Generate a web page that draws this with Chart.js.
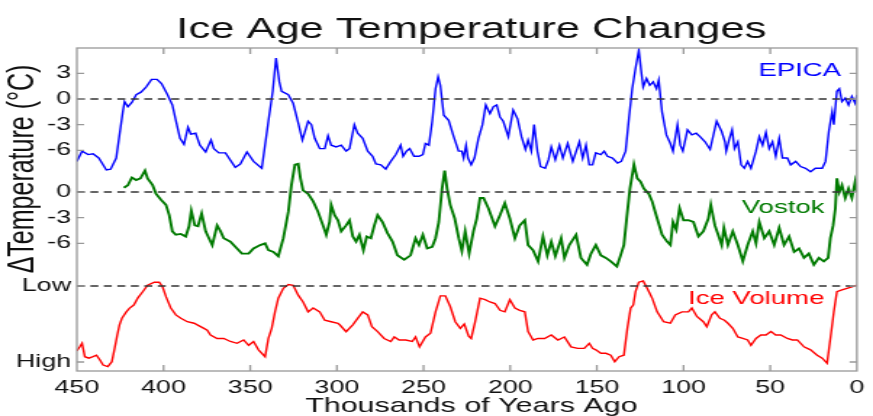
<!DOCTYPE html>
<html><head><meta charset="utf-8">
<script src="https://cdn.jsdelivr.net/npm/chart.js@4.4.1/dist/chart.umd.min.js"></script>
<style>
html,body{margin:0;padding:0;background:#fff;overflow:hidden;}
#wrap{width:602px;height:416px;transform:scaleX(1.4502);transform-origin:0 0;}
</style>
</head><body>
<div id="wrap"><canvas id="c" width="602" height="416"></canvas></div>
<script>
// ---------- text ----------
const chartTitle = 'Ice Age Temperature Changes';
const xAxisTitle = 'Thousands of Years Ago';
const yAxisTitle = 'ΔTemperature (°C)';
const seriesNames = ['EPICA', 'Vostok', 'Ice Volume'];

// ---------- ticks ----------
const xTicks = [450, 400, 350, 300, 250, 200, 150, 100, 50, 0];
// stacked panels share one vertical axis (units of °C); panel zero levels:
const VOSTOK_ZERO = -10.88;
const ICE_LOW = -21.87;
const ICE_HIGH = -30.76;
const Y_MIN = -31.81, Y_MAX = 5.965;
const yTickValues = [ICE_HIGH, ICE_LOW, VOSTOK_ZERO - 6, VOSTOK_ZERO - 3, VOSTOK_ZERO, -6, -3, 0, 3];
const yTickLabels = ['High', 'Low', '-6', '-3', '0', '-6', '-3', '0', '3'];

// ---------- data: [thousand years ago, value] ----------
// EPICA temperature anomaly (°C)
const epica = [[450,-7.3],[447,-6.1],[443.5,-6.5],[440.7,-6.4],[437.4,-6.9],[433,-8.3],[430.5,-8.2],[427.3,-6.9],[425.4,-4.2],[423.5,-1.5],[422.5,-0.3],[420.6,-0.9],[418.3,-0.4],[415.8,0.5],[413,0.8],[410.1,1.4],[406.9,2.3],[403.8,2.3],[401.2,1.8],[397.7,0.5],[394.9,-0.7],[392.9,-2.5],[390.5,-4.6],[388.2,-5.3],[385.9,-3.3],[384.3,-4.1],[381.5,-4.0],[379,-5.4],[375.7,-6.2],[372.6,-4.8],[371,-5.8],[368.1,-6.3],[364.3,-6.3],[358.6,-8.0],[355.7,-7.6],[351.9,-6.2],[348.1,-7.3],[343.3,-8.1],[339.5,-2.6],[337,0.9],[335.1,4.8],[333.2,2.0],[331.9,0.9],[328,0.5],[325.2,-0.5],[322.3,-2.8],[319.9,-4.8],[316.6,-2.6],[314.7,-3.0],[312.8,-4.6],[309.9,-5.8],[307,-5.8],[305.1,-4.3],[303.3,-5.4],[300.4,-5.6],[297.5,-5.4],[294.7,-6.1],[292.7,-5.8],[289.9,-3.0],[288,-4.0],[285.1,-4.6],[282.2,-6.1],[279.4,-6.7],[277.5,-7.6],[274.6,-7.7],[271.8,-8.2],[268.9,-7.3],[266,-6.5],[263.2,-5.4],[261.8,-6.7],[259.9,-6.1],[258,-5.8],[255.5,-6.7],[252.6,-6.7],[250.4,-6.5],[248.9,-5.2],[246.9,-5.4],[245,-2.6],[243.1,1.2],[241.6,2.6],[240.3,1.6],[238.3,-1.9],[235.5,-2.5],[232.6,-4.4],[229.8,-6.1],[227.9,-6.1],[226.9,-6.9],[225.5,-5.4],[224.4,-6.9],[222.5,-7.7],[220.6,-6.9],[218.3,-4.6],[216,-3.0],[214.1,-0.7],[211.7,-1.7],[209.7,-0.9],[207.8,-0.7],[205.9,-2.1],[204,-2.6],[201.1,-4.4],[198.3,-1.3],[195.8,-2.3],[193.5,-4.4],[191.2,-5.9],[189.7,-4.8],[187.8,-6.1],[186.2,-3.0],[184.3,-6.1],[182.5,-7.9],[179.8,-8.1],[177.9,-7.1],[176.3,-5.6],[174,-7.1],[171.6,-5.4],[169.6,-6.9],[166.8,-5.2],[163.9,-7.3],[160.1,-5.0],[158.2,-6.9],[156.3,-5.4],[154.4,-7.7],[152.5,-7.7],[150.6,-6.3],[147.7,-6.5],[145.8,-6.1],[143.9,-6.7],[141,-6.9],[138.1,-7.5],[135.9,-7.3],[133.4,-6.1],[131.5,-2.3],[129.6,1.2],[127.7,3.6],[125.8,5.7],[124.4,3.2],[123.3,1.4],[121.4,2.4],[119.5,1.6],[117.5,2.0],[115.6,1.2],[114.3,2.2],[112.4,-1.5],[109.9,-4.2],[107.6,-5.2],[106.1,-6.1],[103.5,-3.0],[101.9,-5.4],[100.4,-6.1],[97.7,-3.6],[95.2,-4.2],[92.7,-4.0],[90.5,-4.4],[87.6,-5.0],[84.7,-5.9],[80.9,-2.6],[78,-3.8],[76.1,-5.0],[75.4,-6.1],[73.5,-4.6],[72,-3.6],[70.6,-5.8],[68.7,-5.0],[66.8,-7.7],[64.9,-8.1],[63,-7.3],[61.1,-8.1],[58.2,-6.1],[56.3,-4.4],[54.4,-5.4],[52.5,-3.9],[50.6,-5.8],[48.7,-5.0],[46.8,-6.7],[44.8,-4.6],[42.9,-6.9],[40.1,-6.9],[38.2,-7.7],[35.3,-7.3],[32.5,-7.9],[29.6,-8.1],[26.7,-8.5],[23.9,-8.1],[20,-8.1],[18.1,-7.3],[16.2,-3.8],[14.3,-1.5],[13.3,-3.0],[11.5,0.9],[10.1,1.2],[8.6,-0.3],[6.7,0.1],[4.8,-0.7],[2.9,0.3],[1,-0.5],[0,0.5]];

// Vostok temperature anomaly (°C)
const vostok = [[422.9,0.5],[420.6,0.8],[418.3,1.7],[415.8,1.4],[413.3,1.6],[410.7,2.5],[409.2,1.6],[406.3,0.8],[404.4,-0.2],[401.5,-0.9],[398.6,-1.5],[396.7,-2.7],[394.9,-4.6],[392.9,-5.0],[390,-4.9],[387.2,-5.2],[385.3,-4.0],[384,-2.2],[382,-3.9],[380.1,-4.0],[378,-2.5],[375.7,-4.6],[373.8,-5.4],[371.9,-6.2],[369.1,-3.9],[367.1,-4.6],[365.3,-5.4],[361.4,-5.8],[357.6,-6.6],[354.8,-7.2],[350.9,-7.2],[348.1,-6.6],[344.2,-6.2],[341.4,-6.0],[339.5,-6.8],[336.6,-7.0],[333.8,-7.5],[330.9,-5.4],[328,-2.3],[326.2,0.8],[324.2,3.2],[322.3,3.3],[321,1.6],[319.5,0.2],[316.6,-0.2],[313.7,-1.1],[310.9,-2.3],[308,-3.9],[306.1,-5.0],[304.2,-3.5],[303.3,-1.5],[301.3,-2.7],[299.4,-3.3],[297.5,-4.6],[294.7,-3.9],[292.7,-3.3],[290.8,-5.2],[288.9,-5.8],[287,-5.0],[284.7,-6.8],[282.8,-5.2],[280.4,-5.4],[278.4,-3.9],[276.5,-2.7],[273.7,-3.5],[270.8,-4.8],[267.9,-5.8],[265.1,-7.4],[261.2,-7.9],[257.5,-7.4],[254.6,-5.4],[252.6,-6.2],[250.4,-5.0],[247.9,-6.6],[245,-6.4],[243.1,-5.4],[241.2,-3.5],[239.3,0.4],[237.8,2.5],[236.4,0.4],[234.6,-1.5],[232,-3.1],[229.7,-5.4],[227.9,-6.9],[226,-4.6],[223.7,-7.2],[221.2,-4.6],[219.3,-3.1],[217.4,-0.7],[215.4,-0.7],[212.6,-1.9],[208.8,-4.0],[205.9,-2.7],[203.1,-1.3],[200.2,-3.1],[197.3,-5.4],[194.5,-3.9],[191.6,-3.3],[189.7,-6.2],[186.8,-6.8],[183.9,-8.1],[181.1,-5.2],[178.6,-7.4],[176.3,-5.8],[174,-7.5],[170.6,-5.4],[168.7,-7.7],[165.9,-6.2],[162,-5.0],[159.2,-7.7],[155.7,-8.5],[153.4,-7.2],[150.6,-6.2],[147.7,-7.4],[144.8,-7.7],[142,-8.1],[138.5,-8.7],[136.3,-7.4],[134.4,-6.2],[132.8,-3.1],[130.9,0.4],[128.6,3.2],[126.7,1.6],[124.8,1.2],[122.9,0.4],[120.1,-0.2],[118.1,-1.1],[115.2,-3.1],[112.4,-5.0],[109.5,-5.8],[107.6,-6.2],[106.1,-3.5],[104.2,-4.4],[102.3,-1.9],[100,-3.3],[97.2,-3.3],[94.3,-3.5],[91.4,-5.2],[88.6,-4.6],[85.7,-3.1],[84.3,-1.5],[81.9,-3.9],[80,-5.0],[78,-6.2],[76.7,-4.2],[74.4,-6.2],[71.6,-4.6],[68.7,-6.2],[65.8,-8.1],[63,-6.2],[60.1,-4.6],[58.2,-6.0],[56.3,-3.5],[53.4,-5.4],[50.6,-4.6],[47.7,-6.2],[44.8,-4.2],[42,-6.2],[39.1,-5.2],[36.2,-7.0],[33.4,-6.6],[30.5,-7.7],[27.7,-7.2],[24.8,-8.5],[21.9,-7.7],[19.1,-8.1],[16.6,-7.7],[15.3,-5.4],[13.7,-3.9],[12.4,-1.9],[11.5,1.6],[10.1,0.0],[8.6,0.8],[6.7,-0.7],[4.8,0.4],[2.9,-0.7],[1,1.2],[0,0.0]];

// Ice volume, relative: 0 = Low, 100 = High
const iceVolume = [[450,85.5],[448.3,80],[447,75.4],[445.4,93],[443.1,95],[440.7,93],[438.7,91],[436.8,97],[434.9,104],[432.1,106],[429.8,99.6],[428.2,82],[426.7,64.5],[425.4,51],[424,42.5],[421.5,34],[419.6,29],[417.2,25],[414.9,16],[412,7.5],[409.2,-1],[405.3,-5],[402.5,-5],[400.6,1],[398.6,14],[395.8,29],[392.9,38],[390,42.5],[386.3,47],[382.4,49],[378.6,53.5],[376.7,55.7],[374.8,58],[372.9,64.5],[369.1,69],[365.3,69],[361.4,73],[357.6,75.4],[353.8,71],[350.9,78],[348.1,73],[345.2,84],[341.4,93],[339.5,69],[337.6,55.7],[335.7,34],[333.8,16],[330.9,3],[328,-2],[325.2,-1],[322.3,12],[319.5,21],[316.6,34],[313.7,29],[309.9,34],[307,45],[303.3,47],[299.4,49],[298.4,51],[294.7,60],[290.8,51],[288,42.5],[285.1,34],[282.2,38],[279.8,53.5],[276.5,60],[272.7,69],[268.9,73],[266.9,67],[264.1,71],[260.3,71],[256.5,73],[254.6,67],[252.3,80],[248.9,67],[246,62],[243.1,34],[240.3,13],[237.4,13],[234.6,27],[231.7,47],[228.8,55.7],[226.5,50],[224,66],[222.5,69],[220.2,47],[217.4,16],[214.5,18],[211.7,21],[208.8,23],[205.9,32],[203.1,34],[200.2,18],[197.3,29],[194.5,32],[191.6,34],[189.7,60],[186.8,71],[183.9,69],[180.2,69],[176.3,64.5],[172.5,71],[168.7,67],[164.9,80],[161,82],[157.3,82],[154.4,75.4],[152.5,82],[150.6,84],[147.7,88.5],[144.8,88.5],[142,91],[139.7,99.6],[137.2,93],[134.4,91],[132.4,55.7],[130.5,29],[129,25],[127.7,7.5],[125.8,-5],[123.3,-6.6],[121,3],[118.1,16],[115.2,34],[111.5,47],[107.6,49],[104.8,38],[100.9,34],[97.2,34],[95.2,29],[92.3,40],[88.6,47],[86.6,53.5],[83.8,38],[81.9,34],[79,42.5],[76.4,45],[74.4,49],[71.6,55.7],[68.7,67],[65.8,69],[63,71],[61.1,78],[58.2,69],[55.4,64.5],[52.5,64.5],[49.6,60],[46.8,64.5],[43.9,64.5],[40.1,69],[37.2,71],[34.4,71],[30.5,80],[26.7,84],[22.9,91],[20,95],[17.2,101.7],[15.3,69],[13.3,34],[11.5,7.5],[8.6,5],[5.7,3],[2.9,1],[0,-1]];

// ---------- build ----------
const FONT = "'Liberation Sans', Arial, Helvetica, sans-serif";
Chart.defaults.font.family = FONT;
Chart.defaults.color = '#000';

const toPts = (arr, f) => arr.map(([a, v]) => ({ x: a, y: f(v) }));
const epicaPts = toPts(epica, v => v);
const vostokPts = toPts(vostok, v => VOSTOK_ZERO + v);
const icePts = toPts(iceVolume, v => ICE_LOW - v / 100 * (ICE_LOW - ICE_HIGH));
const refLine = y => [{ x: 450, y }, { x: 0, y }];

const COLORS = { epica: '#0000ff', vostok: '#007a00', ice: '#ff0000' };

const dashStyle = { borderColor: '#333', borderWidth: 1.6, borderDash: [5.5, 3.8], pointRadius: 0, fill: false };

const decor = {
  id: 'decor',
  beforeDraw(chart) {
    const { ctx, width, height } = chart;
    ctx.save(); ctx.fillStyle = '#fff'; ctx.fillRect(0, 0, width, height); ctx.restore();
  },
  afterDatasetsDraw(chart) {
    const { ctx, chartArea: a, scales: { x, y } } = chart;
    ctx.save();
    ctx.strokeStyle = '#999'; ctx.lineWidth = 1.3;
    ctx.strokeRect(a.left, a.top, a.right - a.left, a.bottom - a.top);
    ctx.beginPath();
    xTicks.forEach(v => {
      const px = x.getPixelForValue(v);
      if (px <= a.left + 1 || px >= a.right - 1) return;
      ctx.moveTo(px, a.bottom); ctx.lineTo(px, a.bottom - 6);
      ctx.moveTo(px, a.top); ctx.lineTo(px, a.top + 6);
    });
    yTickValues.forEach(v => {
      const py = y.getPixelForValue(v);
      ctx.moveTo(a.left, py); ctx.lineTo(a.left + 5, py);
      ctx.moveTo(a.right, py); ctx.lineTo(a.right - 5, py);
    });
    ctx.stroke();

    ctx.fillStyle = '#111';
    ctx.textAlign = 'center'; ctx.textBaseline = 'alphabetic';
    ctx.font = '30px ' + FONT;
    ctx.fillText(chartTitle, 325, 38);
    ctx.font = '21px ' + FONT;
    ctx.fillText(xAxisTitle, 325, 412);
    ctx.save();
    ctx.translate(22.5, 169); ctx.rotate(-Math.PI / 2);
    ctx.font = '25px ' + FONT;
    ctx.fillText(yAxisTitle, 0, 0);
    ctx.restore();

    ctx.textAlign = 'left';
    ctx.font = '19px ' + FONT;
    ctx.fillStyle = COLORS.epica; ctx.fillText(seriesNames[0], 523, 76);
    ctx.fillStyle = COLORS.vostok; ctx.fillText(seriesNames[1], 511.5, 212.5);
    ctx.fillStyle = COLORS.ice; ctx.fillText(seriesNames[2], 474.5, 304);
    ctx.restore();
  }
};

new Chart(document.getElementById('c'), {
  type: 'line',
  data: {
    datasets: [
      { label: 'EPICA zero', data: refLine(0), ...dashStyle },
      { label: 'Vostok zero', data: refLine(VOSTOK_ZERO), ...dashStyle },
      { label: 'Ice low', data: refLine(ICE_LOW), ...dashStyle },
      { label: seriesNames[0], data: epicaPts, borderColor: COLORS.epica, borderWidth: 1.4, pointRadius: 0, tension: 0 },
      { label: seriesNames[1], data: vostokPts, borderColor: COLORS.vostok, borderWidth: 1.9, pointRadius: 0, tension: 0 },
      { label: seriesNames[2], data: icePts, borderColor: COLORS.ice, borderWidth: 1.4, pointRadius: 0, tension: 0 }
    ]
  },
  options: {
    responsive: false,
    animation: false,
    devicePixelRatio: 1,
    parsing: false,
    layout: { padding: { top: 48, right: 7, left: 0, bottom: 0 } },
    plugins: { legend: { display: false }, tooltip: { enabled: false }, title: { display: false } },
    scales: {
      x: {
        type: 'linear', min: 0, max: 450, reverse: true,
        afterBuildTicks: s => { s.ticks = xTicks.map(v => ({ value: v })); },
        afterFit: s => { s.height = 45; },
        grid: { display: false, drawTicks: false },
        border: { display: false },
        ticks: { autoSkip: false, maxRotation: 0, padding: 6, color: '#111', font: { size: 18.5 }, callback: v => String(v) }
      },
      y: {
        type: 'linear', min: Y_MIN, max: Y_MAX,
        afterBuildTicks: s => { s.ticks = yTickValues.map(v => ({ value: v })); },
        afterFit: s => { s.width = 53; },
        grid: { display: false, drawTicks: false },
        border: { display: false },
        ticks: { autoSkip: false, padding: 4, color: '#111', font: { size: 18.5 }, callback: (v, i) => yTickLabels[i] }
      }
    }
  },
  plugins: [decor]
});
</script>
</body></html>
